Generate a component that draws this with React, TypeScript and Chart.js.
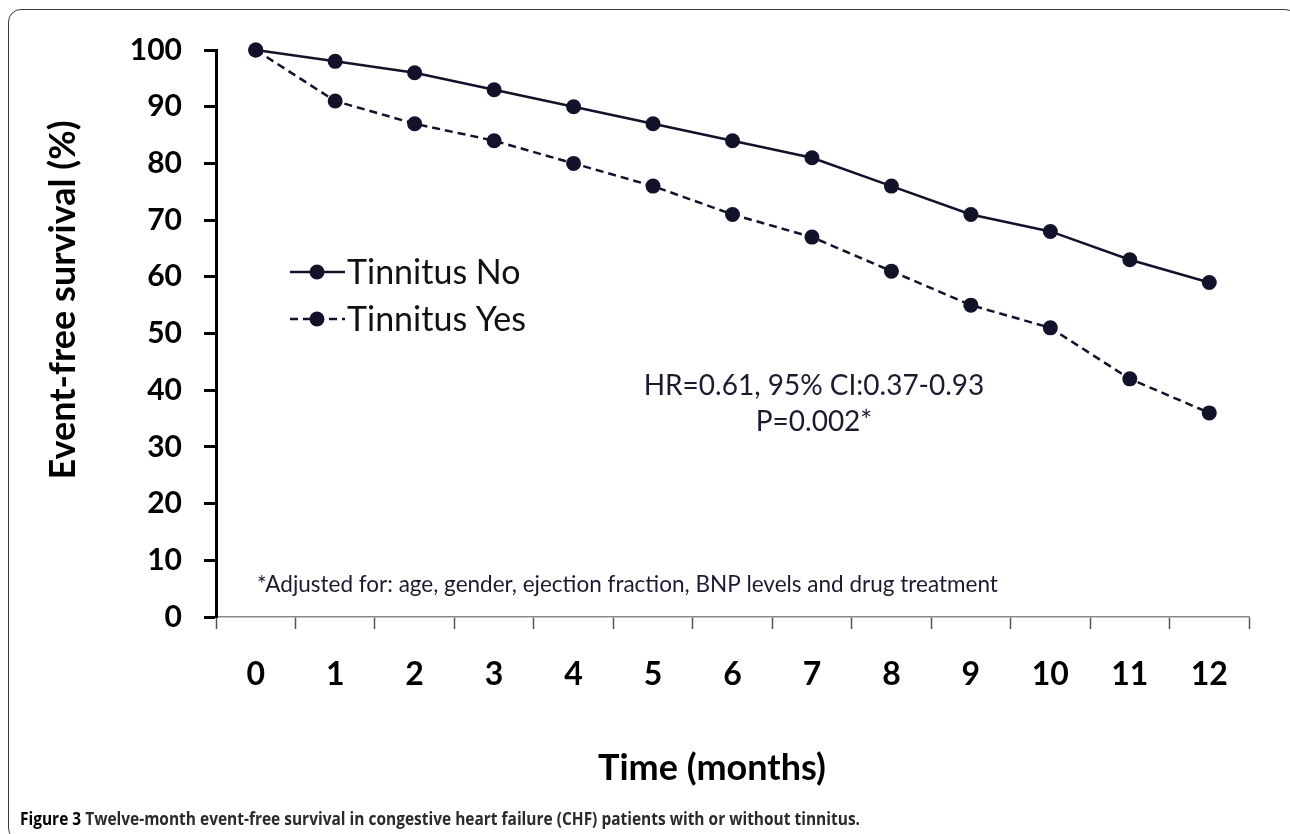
import React, { useEffect, useRef } from 'react';
import { Chart, registerables } from 'chart.js';

Chart.register(...registerables);

// ---- data ----
const months = ['0', '1', '2', '3', '4', '5', '6', '7', '8', '9', '10', '11', '12'];
const tinnitusNo = [100, 98, 96, 93, 90, 87, 84, 81, 76, 71, 68, 63, 59];
const tinnitusYes = [100, 91, 87, 84, 80, 76, 71, 67, 61, 55, 51, 42, 36];
const yTickValues = [0, 10, 20, 30, 40, 50, 60, 70, 80, 90, 100];
const seriesLabels = ['Tinnitus No', 'Tinnitus Yes'];
const statsLines = ['HR=0.61, 95% CI:0.37-0.93', 'P=0.002*'];
const footnote = '*Adjusted for: age, gender, ejection fraction, BNP levels and drug treatment';
const xTitle = 'Time (months)';
const yTitle = 'Event-free survival (%)';
const captionBold = 'Figure 3';
const captionRest = ' Twelve-month event-free survival in congestive heart failure (CHF) patients with or without tinnitus.';

const FONT = 'Lato, "Open Sans", "DejaVu Sans", sans-serif';
const NAVY = '#12122b';
const TEXT = '#1b1b30';

const overlayPlugin = {
  id: 'overlay',
  afterDraw(chart: any) {
    const ctx = chart.ctx as CanvasRenderingContext2D;
    ctx.save();

    // Legend (drawn from dataset styles)
    const legendRows = [272, 319];
    chart.data.datasets.forEach((ds: any, i: number) => {
      const y = legendRows[i];
      ctx.strokeStyle = ds.borderColor;
      ctx.lineWidth = ds.borderWidth;
      ctx.setLineDash(ds.borderDash || []);
      ctx.beginPath();
      ctx.moveTo(290, y);
      ctx.lineTo(345, y);
      ctx.stroke();
      ctx.setLineDash([]);
      ctx.fillStyle = ds.pointBackgroundColor;
      ctx.beginPath();
      ctx.arc(317, y, ds.pointRadius, 0, Math.PI * 2);
      ctx.fill();
      ctx.fillStyle = '#111';
      ctx.font = `34px ${FONT}`;
      ctx.textAlign = 'left';
      ctx.textBaseline = 'middle';
      ctx.fillText(ds.label, 347, y + 1, 195);
    });

    // Stats text
    ctx.fillStyle = TEXT;
    ctx.font = `28px ${FONT}`;
    ctx.textAlign = 'center';
    ctx.textBaseline = 'middle';
    ctx.fillText(statsLines[0], 814, 386, 342);
    ctx.fillText(statsLines[1], 814, 422);

    // Footnote
    ctx.font = `22.5px ${FONT}`;
    ctx.textAlign = 'left';
    ctx.fillText(footnote, 257, 585, 742);

    // Axis titles
    ctx.fillStyle = '#000';
    ctx.font = `bold 36px ${FONT}`;
    ctx.textAlign = 'center';
    ctx.fillText(xTitle, 712, 768);

    ctx.translate(63, 300);
    ctx.rotate(-Math.PI / 2);
    ctx.fillText(yTitle, 0, 0);

    ctx.restore();
  },
};

export default function App() {
  const canvasRef = useRef<HTMLCanvasElement>(null);

  useEffect(() => {
    const canvas = canvasRef.current;
    if (!canvas) return;
    const chart = new Chart(canvas, {
      type: 'line',
      data: {
        labels: months,
        datasets: [
          {
            label: seriesLabels[0],
            data: tinnitusNo,
            borderColor: NAVY,
            backgroundColor: NAVY,
            borderWidth: 2.5,
            pointRadius: 7.5,
            pointBackgroundColor: NAVY,
            pointBorderWidth: 0,
            tension: 0,
            clip: false,
          },
          {
            label: seriesLabels[1],
            data: tinnitusYes,
            borderColor: NAVY,
            backgroundColor: NAVY,
            borderWidth: 2.5,
            borderDash: [8, 5],
            pointRadius: 7.5,
            pointBackgroundColor: NAVY,
            pointBorderWidth: 0,
            tension: 0,
            clip: false,
          },
        ],
      },
      options: {
        responsive: false,
        animation: false,
        devicePixelRatio: 1,
        layout: { padding: { left: 0, top: 50, right: 41, bottom: 0 } },
        plugins: {
          legend: { display: false },
          tooltip: { enabled: false },
        },
        scales: {
          x: {
            type: 'category',
            offset: true,
            grid: {
              offset: true,
              drawOnChartArea: false,
              drawTicks: true,
              tickLength: 12,
              tickColor: '#555',
              tickWidth: 1.5,
            },
            border: { display: true, color: '#888', width: 1.5 },
            ticks: {
              color: '#000',
              font: { family: FONT, size: 32, weight: 'bold' },
              padding: 26,
              maxRotation: 0,
              autoSkip: false,
            },
            afterFit(scale: any) {
              scale.height = 217;
            },
          },
          y: {
            min: 0,
            max: 100,
            grid: {
              drawOnChartArea: false,
              drawTicks: true,
              tickLength: 12,
              tickColor: '#000',
              tickWidth: 3,
            },
            border: { display: true, color: '#000', width: 3 },
            ticks: {
              color: '#000',
              font: { family: FONT, size: 30, weight: 'bold' },
              padding: 22,
            },
            afterBuildTicks(scale: any) {
              scale.ticks = yTickValues.map((v) => ({ value: v }));
            },
            afterFit(scale: any) {
              scale.width = 216;
            },
          },
        },
      },
      plugins: [overlayPlugin],
    });
    return () => chart.destroy();
  }, []);

  return (
    <div
      style={{
        position: 'fixed',
        left: 0,
        top: 0,
        width: 1290,
        height: 834,
        overflow: 'hidden',
        background: '#fff',
      }}
    >
      <div
        style={{
          position: 'absolute',
          left: 8,
          top: 9,
          width: 1290,
          height: 832,
          border: '1.5px solid #3a3a3a',
          borderRadius: 13,
          boxSizing: 'border-box',
        }}
      />
      <canvas
        ref={canvasRef}
        width={1290}
        height={834}
        style={{ position: 'absolute', left: 0, top: 0, width: 1290, height: 834 }}
      />
      <svg
        width={1290}
        height={834}
        style={{ position: 'absolute', left: 0, top: 0, pointerEvents: 'none' }}
      >
        <text
          x={20}
          y={825}
          textLength={840}
          lengthAdjust="spacingAndGlyphs"
          style={{ fontFamily: '"Open Sans", "Noto Sans", sans-serif', fontSize: 17, fontWeight: 700 }}
        >
          <tspan fill="#000">{captionBold}</tspan>
          <tspan fill="#2a2a2a">{captionRest}</tspan>
        </text>
      </svg>
    </div>
  );
}
